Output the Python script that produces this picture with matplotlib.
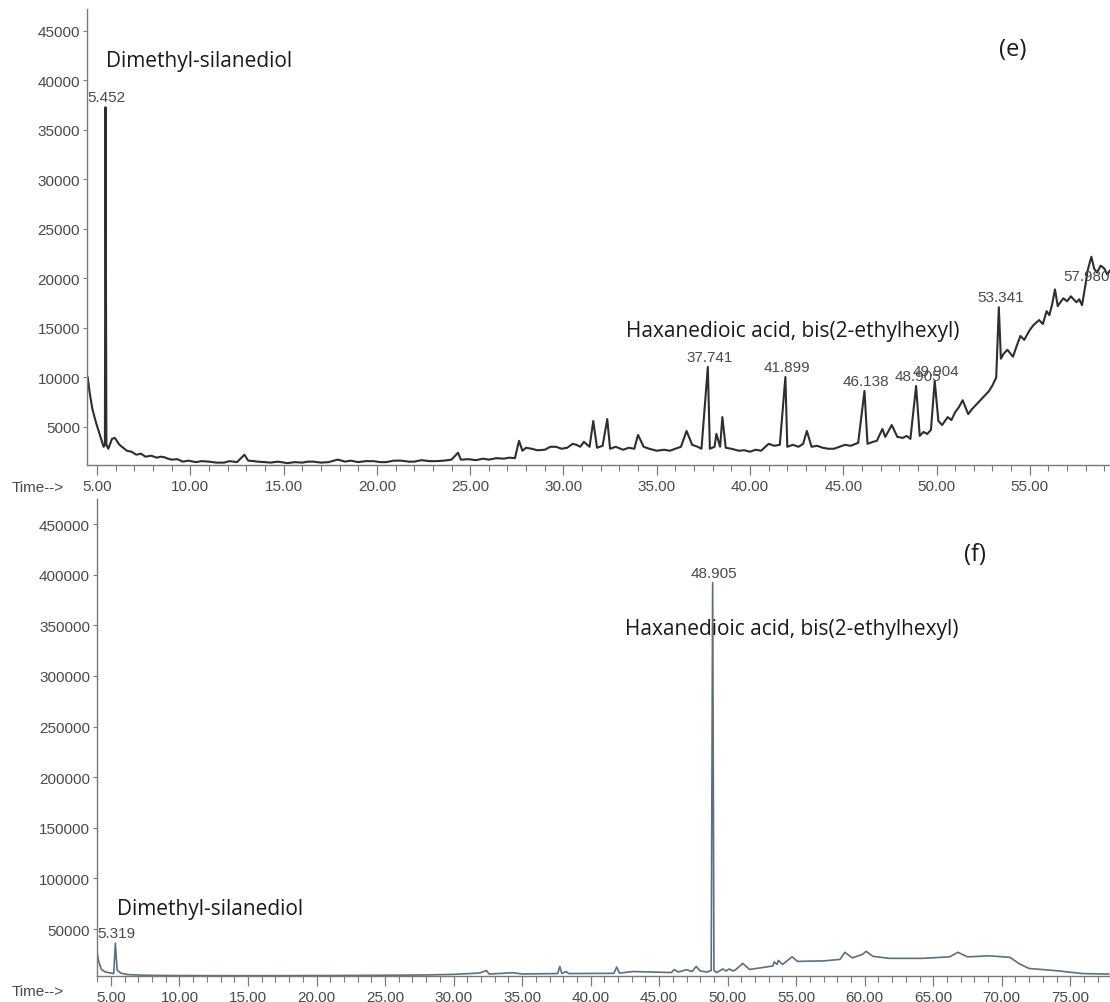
import matplotlib
matplotlib.use('Agg')
import matplotlib.pyplot as plt
from matplotlib.ticker import MultipleLocator, FormatStrFormatter

# ---- panel (e): retention time (min) / abundance ----
e_time = [4.50, 4.60, 4.75, 4.95, 5.15, 5.35, 5.42, 5.452, 5.50, 5.60, 5.80, 5.95,
          6.20, 6.40, 6.60, 6.85, 7.10, 7.35, 7.60, 7.90, 8.20, 8.40, 8.60, 8.80,
          9.00, 9.30, 9.60, 9.90, 10.30, 10.60, 11.00, 11.40, 11.80, 12.10, 12.50,
          12.90, 13.10, 13.40, 13.60, 14.00, 14.30, 14.70, 15.20, 15.60, 16.00, 16.30,
          16.60, 17.00, 17.40, 17.90, 18.30, 18.60, 19.00, 19.40, 19.80, 20.20, 20.50,
          20.90, 21.30, 21.70, 22.00, 22.40, 22.80, 23.20, 23.60, 24.00, 24.35, 24.50,
          24.90, 25.30, 25.70, 26.00, 26.40, 26.80, 27.10, 27.40, 27.62, 27.80, 28.00,
          28.30, 28.60, 29.00, 29.30, 29.60, 29.90, 30.20, 30.50, 30.70, 30.90, 31.10,
          31.40, 31.60, 31.80, 32.10, 32.35, 32.50, 32.80, 33.20, 33.50, 33.80, 34.00,
          34.30, 34.60, 35.00, 35.40, 35.70, 36.00, 36.30, 36.60, 36.90, 37.20, 37.40,
          37.741, 37.85, 38.10, 38.20, 38.40, 38.52, 38.70, 39.00, 39.40, 39.70, 40.00,
          40.30, 40.60, 41.00, 41.30, 41.60, 41.899, 42.00, 42.30, 42.60, 42.85, 43.05,
          43.30, 43.60, 43.90, 44.20, 44.50, 44.80, 45.10, 45.40, 45.80, 46.138, 46.30,
          46.60, 46.80, 47.10, 47.25, 47.40, 47.60, 47.90, 48.20, 48.40, 48.60, 48.905,
          49.10, 49.30, 49.50, 49.70, 49.904, 50.10, 50.30, 50.60, 50.80, 51.00, 51.20,
          51.40, 51.70, 51.90, 52.20, 52.50, 52.80, 53.00, 53.20, 53.341, 53.45, 53.60,
          53.80, 54.10, 54.30, 54.50, 54.70, 55.00, 55.20, 55.50, 55.70, 55.90, 56.05,
          56.20, 56.35, 56.50, 56.60, 56.80, 57.00, 57.20, 57.50, 57.65, 57.80, 57.98,
          58.10, 58.30, 58.45, 58.60, 58.80, 59.00, 59.15, 59.30]
e_abund = [10000, 8500, 6800, 5400, 4200, 3000, 3200, 37300, 3200, 2800, 3800, 3900,
           3200, 2900, 2600, 2500, 2200, 2300, 2000, 2100, 1900, 2000, 1950, 1800,
           1700, 1750, 1500, 1600, 1450, 1550, 1500, 1400, 1400, 1550, 1450,
           2200, 1600, 1550, 1500, 1450, 1400, 1500, 1350, 1450, 1400, 1500,
           1500, 1400, 1450, 1700, 1500, 1600, 1450, 1550, 1550, 1450, 1450,
           1600, 1600, 1500, 1500, 1650, 1550, 1550, 1600, 1700, 2400, 1700,
           1750, 1650, 1800, 1700, 1850, 1800, 1900, 1850, 3600, 2600, 2900,
           2800, 2650, 2700, 3000, 3000, 2800, 2900, 3300, 3200, 3000, 3500,
           3000, 5600, 2900, 3100, 5800, 2800, 3000, 2700, 2900, 2800, 4200,
           3000, 2800, 2600, 2700, 2600, 2800, 3000, 4600, 3200, 3000, 2800,
           11060, 2800, 3000, 4300, 3000, 6000, 2900, 2800, 2600, 2650, 2500,
           2700, 2600, 3300, 3100, 3200, 10050, 3000, 3200, 3000, 3300, 4600,
           3000, 3100, 2900, 2800, 2800, 3000, 3200, 3100, 3400, 8640, 3300,
           3500, 3600, 4800, 4000, 4500, 5200, 4000, 3900, 4100, 3800, 9140,
           4100, 4500, 4300, 4700, 9650, 5600, 5200, 6000, 5700, 6500, 7000,
           7700, 6300, 6800, 7400, 8000, 8600, 9200, 10000, 17100, 11900, 12400,
           12800, 12100, 13200, 14200, 13800, 14800, 15300, 15800, 15400, 16700, 16300,
           17400, 18900, 17200, 17500, 18000, 17700, 18200, 17600, 17900, 17300, 19300,
           20800, 22200, 21000, 20600, 21300, 21000, 20400, 20800]
e_peaks = [5.452, 37.741, 41.899, 46.138, 48.905, 49.904, 53.341, 57.98]
e_peak_labels = ['5.452', '37.741', '41.899', '46.138', '48.905', '49.904', '53.341', '57.980']

# ---- panel (f) ----
f_time = [4.00, 4.10, 4.30, 4.60, 5.00, 5.20, 5.319, 5.45, 5.70, 6.20, 7.00, 8.00,
          10.00, 15.00, 20.00, 25.00, 28.00, 30.00, 31.90, 32.40, 32.60, 34.30, 35.00,
          37.60, 37.75, 37.90, 38.20, 38.40, 41.70, 41.90, 42.10, 43.10, 45.90, 46.10,
          46.40, 47.00, 47.40, 47.70, 48.00, 48.50, 48.80, 48.905, 49.00, 49.20, 49.65,
          49.90, 50.10, 50.40, 50.60, 51.10, 51.60, 53.30, 53.40, 53.60, 53.70, 54.00,
          54.70, 55.10, 57.00, 58.20, 58.55, 59.10, 59.85, 60.10, 60.60, 61.80, 64.20,
          66.20, 66.80, 67.50, 69.10, 70.60, 71.30, 72.00, 74.00, 75.90, 77.80]
f_abund = [26000, 18000, 10000, 7500, 6500, 6000, 36000, 9500, 6500, 5000, 4500, 4200,
           4000, 3900, 4000, 4300, 4600, 5200, 6500, 9000, 5500, 6800, 5600,
           6000, 13000, 6000, 8000, 6000, 6200, 12500, 6500, 8000, 7000, 10000,
           7500, 9800, 8000, 13000, 8500, 7500, 9000, 392000, 9000, 7000, 10500,
           8500, 10500, 8500, 10000, 16000, 10000, 13500, 17500, 15000, 19000, 15000,
           22500, 18000, 18500, 20000, 27000, 21500, 25000, 28000, 23000, 21000, 21000,
           22500, 27000, 22500, 23500, 22000, 15500, 11000, 8800, 6000, 5500]
f_peaks = [5.319, 48.905]
f_peak_labels = ['5.319', '48.905']

W, H = 1110, 1003
TICK_FONT = 'Liberation Sans'
NOTE_FONT = 'Open Sans'
tick_col = '#4a4a4a'

fig = plt.figure(figsize=(W / 100, H / 100), dpi=100)


def style_axis(ax):
    for s in ['top', 'right']:
        ax.spines[s].set_visible(False)
    for s in ['left', 'bottom']:
        ax.spines[s].set_color('#7a7a7a')
        ax.spines[s].set_linewidth(1.0)
    ax.xaxis.set_major_locator(MultipleLocator(5))
    ax.xaxis.set_minor_locator(MultipleLocator(1))
    ax.xaxis.set_major_formatter(FormatStrFormatter('%.2f'))
    ax.tick_params(axis='x', which='major', length=7, width=0.9, colors='#7a7a7a',
                   labelcolor=tick_col, labelsize=11, pad=3)
    ax.tick_params(axis='x', which='minor', length=4, width=0.8, colors='#7a7a7a')
    ax.tick_params(axis='y', which='major', length=3, width=0.8, colors='#7a7a7a',
                   labelcolor=tick_col, labelsize=11, pad=2)
    for lab in ax.get_xticklabels() + ax.get_yticklabels():
        lab.set_fontfamily(TICK_FONT)


# ---------------- panel (e) ----------------
ax1 = fig.add_axes([87 / W, 1 - 466 / H, 1 - 87 / W, (466 - 10) / H])
ax1.plot(e_time, e_abund, color='#2e2e2e', lw=1.5)
ax1.set_xlim(4.46, 59.3)
ax1.set_ylim(1160, 47222)
ax1.set_yticks(range(5000, 45001, 5000))
style_axis(ax1)
for t, lab in zip(e_peaks, e_peak_labels):
    v = e_abund[e_time.index(t)]
    ax1.annotate(lab, (t, v), xytext=(1, 2), textcoords='offset points',
                 ha='center', va='bottom', fontsize=11, color=tick_col,
                 family=TICK_FONT)
ax1.text(106 / W, 1 - 62 / H, 'Dimethyl-silanediol', transform=fig.transFigure,
         fontsize=15, family=NOTE_FONT, color='#1a1a1a', va='center', ha='left')
ax1.text(626 / W, 1 - 332 / H, 'Haxanedioic acid, bis(2-ethylhexyl)',
         transform=fig.transFigure, fontsize=15, family=NOTE_FONT,
         color='#1a1a1a', va='center', ha='left')
ax1.text(1013 / W, 1 - 50 / H, '(e)', transform=fig.transFigure, fontsize=17,
         family=NOTE_FONT, color='#1a1a1a', va='center', ha='center')
fig.text(12 / W, 1 - 488 / H, 'Time-->', fontsize=11, family=TICK_FONT,
         color=tick_col, va='center', ha='left')

# ---------------- panel (f) ----------------
ax2 = fig.add_axes([97 / W, 1 - 977 / H, 1 - 97 / W, (977 - 500) / H])
ax2.plot(f_time, f_abund, color='#5b6f82', lw=1.2)
ax2.set_xlim(3.98, 77.9)
ax2.set_ylim(3580, 474700)
ax2.set_yticks(range(50000, 450001, 50000))
style_axis(ax2)
for t, lab in zip(f_peaks, f_peak_labels):
    v = f_abund[f_time.index(t)]
    ax2.annotate(lab, (t, v), xytext=(1, 2), textcoords='offset points',
                 ha='center', va='bottom', fontsize=11, color=tick_col,
                 family=TICK_FONT)
ax2.text(117 / W, 1 - 910 / H, 'Dimethyl-silanediol', transform=fig.transFigure,
         fontsize=15, family=NOTE_FONT, color='#1a1a1a', va='center', ha='left')
ax2.text(625 / W, 1 - 630 / H, 'Haxanedioic acid, bis(2-ethylhexyl)',
         transform=fig.transFigure, fontsize=15, family=NOTE_FONT,
         color='#1a1a1a', va='center', ha='left')
ax2.text(975 / W, 1 - 555 / H, '(f)', transform=fig.transFigure, fontsize=17,
         family=NOTE_FONT, color='#1a1a1a', va='center', ha='center')
fig.text(12 / W, 1 - 992 / H, 'Time-->', fontsize=11, family=TICK_FONT,
         color=tick_col, va='center', ha='left')

fig.savefig('out.png', dpi=100)
plt.close(fig)
